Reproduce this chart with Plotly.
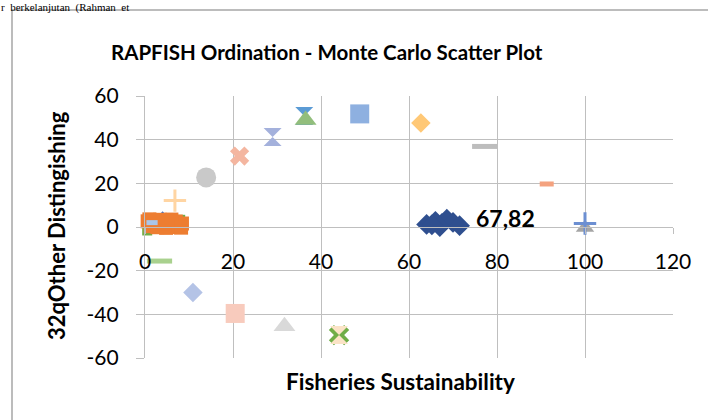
import plotly.graph_objects as go

# ---------------- data ----------------
x_ticks = [0, 20, 40, 60, 80, 100, 120]
x_tick_labels = ["0", "20", "40", "60", "80", "100", "120"]
y_ticks = [-60, -40, -20, 0, 20, 40, 60]
y_tick_labels = ["-60", "-40", "-20", "0", "20", "40", "60"]

# Monte Carlo cloud (dark blue diamonds)
mc_x = [64.0, 66.0, 67.5, 68.6, 70.0, 71.5, 67.0, 65.2]
mc_y = [1.2, 2.6, 1.6, 3.6, 2.1, 0.6, 0.2, 1.0]
mc_label = "67,82"
mc_label_x = 71.5
mc_label_y = 4.0

# points hidden under the orange cluster
hid_blue_x = [4.0]
hid_blue_y = [3.9]
hid_green_x = [8.0, 0.5]
hid_green_y = [3.3, -1.6]

# orange cluster at origin
org_x = [-0.6, 0.6, 1.3, 2.2, 3.4, 4.0, 4.9, 5.8, 6.4, 7.0, 8.4, 1.0, 2.8, 4.8, 7.6, -0.2, 1.8, 4.3, 6.0, 8.2]
org_y = [1.0, 2.6, 0.4, 1.9, 3.3, 0.9, 3.0, 1.3, 0.0, 2.5, 1.6, 3.5, -0.1, -0.4, 0.4, -0.2, 3.1, 1.8, 3.4, -0.3]

# reference / anchor points, one list pair per series
s_blue_hg_x, s_blue_hg_y = [36.2], [50.8]
s_green_tri_x, s_green_tri_y = [36.5], [49.0]
s_ltblue_sq_x, s_ltblue_sq_y = [48.8], [51.8]
s_lav_hg_x, s_lav_hg_y = [29.0], [41.2]
s_salmon_x_x, s_salmon_x_y = [21.5], [32.5]
s_gray_circ_x, s_gray_circ_y = [13.9], [22.7]
s_ltorange_plus_x, s_ltorange_plus_y = [6.8], [12.1]
s_yellow_hg_x, s_yellow_hg_y = [-0.2], [2.3]
s_ltblue_dash_x, s_ltblue_dash_y = [1.6], [2.0]
s_green_dash_x, s_green_dash_y = [3.3], [-15.6]
s_lav_dia_x, s_lav_dia_y = [10.9], [-30.0]
s_pink_sq_x, s_pink_sq_y = [20.5], [-39.6]
s_ltgray_tri_x, s_ltgray_tri_y = [31.7], [-45.5]
s_green_x_x, s_green_x_y = [44.1], [-49.5]
s_cream_hg_x, s_cream_hg_y = [44.1], [-49.5]
s_orange_dia_x, s_orange_dia_y = [62.7], [47.6]
s_gray_dash_x, s_gray_dash_y = [77.2], [36.9]
s_salmon_dash_x, s_salmon_dash_y = [91.3], [19.7]
s_gray_tri_x, s_gray_tri_y = [100.0], [-0.3]
s_blue_plus_x, s_blue_plus_y = [100.0], [1.6]

title_text = "RAPFISH Ordination - Monte Carlo Scatter Plot"
x_title = "Fisheries Sustainability"
y_title = "32qOther Distingishing"
doc_text = "r  berkelanjutan  (Rahman  et"

# ---------------- figure ----------------
W, H = 708, 420
fig = go.Figure()

def add(xs, ys, symbol, color, size, line_w=0, line_color=None):
    marker = dict(symbol=symbol, color=color, size=size,
                  line=dict(width=line_w, color=line_color or color))
    fig.add_trace(go.Scatter(x=xs, y=ys, mode="markers", marker=marker,
                             hoverinfo="skip", showlegend=False, cliponaxis=False))

add(s_blue_hg_x, s_blue_hg_y, "hourglass", "#5B9BD5", 18)
add(s_green_tri_x, s_green_tri_y, "triangle-up", "#92BE7C", 19)
add(s_ltblue_sq_x, s_ltblue_sq_y, "square", "#8EB0E0", 19)
add(s_lav_hg_x, s_lav_hg_y, "hourglass", "#A4B1DC", 18)
add(s_salmon_x_x, s_salmon_x_y, "x", "#F4B6A0", 17)
add(s_gray_circ_x, s_gray_circ_y, "circle", "#C9C9C9", 20)
add(s_ltorange_plus_x, s_ltorange_plus_y, "cross-thin", "#FFD5A3", 16, 3)
add(hid_blue_x, hid_blue_y, "diamond", "#4472C4", 11)
add(hid_green_x, hid_green_y, "square", "#70AD47", 10)
add(org_x, org_y, "square", "#ED7D31", 14)
add(s_yellow_hg_x, s_yellow_hg_y, "hourglass", "#FFC000", 14)
add(s_ltblue_dash_x, s_ltblue_dash_y, "line-ew", "#A9C6EA", 8, 5)
add(s_green_dash_x, s_green_dash_y, "line-ew", "#A9D18E", 18, 5)
add(s_lav_dia_x, s_lav_dia_y, "diamond", "#B4C3E6", 15)
add(s_pink_sq_x, s_pink_sq_y, "square", "#F8CBBD", 19)
add(s_ltgray_tri_x, s_ltgray_tri_y, "triangle-up", "#D9D9D9", 19)
add(s_green_x_x, s_green_x_y, "x", "#70AD47", 18)
add(s_cream_hg_x, s_cream_hg_y, "hourglass", "#FBE3C6", 18)
add(s_orange_dia_x, s_orange_dia_y, "diamond", "#FFC876", 15)
add(s_gray_dash_x, s_gray_dash_y, "line-ew", "#BDBDBD", 18, 5)
add(s_salmon_dash_x, s_salmon_dash_y, "line-ew", "#F4A27F", 10, 5)
add(s_gray_tri_x, s_gray_tri_y, "triangle-up", "#A5A5A5", 16)
add(s_blue_plus_x, s_blue_plus_y, "cross-thin", "#6C8FD2", 16, 3)
add(mc_x, mc_y, "diamond", "#2F4F8F", 16)

# plot area in pixels
px_l, px_r, px_t, px_b = 145, 673, 96, 358
xd = [px_l / W, px_r / W]
yd = [1 - px_b / H, 1 - px_t / H]
zero_frac = yd[0] + (yd[1] - yd[0]) * 0.5

GRID = "#BFBFBF"
FONT = "Lato"

fig.update_layout(
    width=W, height=H,
    margin=dict(l=0, r=0, t=0, b=0, autoexpand=False),
    paper_bgcolor="white", plot_bgcolor="white",
    font=dict(family=FONT, color="#000000"),
    xaxis=dict(domain=xd, range=[0, 120], tickvals=x_ticks, ticktext=x_tick_labels,
               anchor="free", position=zero_frac, automargin=False,
               showgrid=True, gridcolor=GRID, gridwidth=1.3,
               showline=True, linecolor=GRID, linewidth=1.3,
               ticks="outside", ticklen=6, tickcolor=GRID, tickwidth=1.3,
               zeroline=False, tickfont=dict(size=21, family=FONT, color="#000"),
               ticklabelstandoff=10),
    yaxis=dict(domain=yd, range=[-60, 60], tickvals=y_ticks, ticktext=y_tick_labels,
               automargin=False,
               showgrid=True, gridcolor=GRID, gridwidth=1.3,
               showline=True, linecolor=GRID, linewidth=1.3,
               ticks="outside", ticklen=8, tickcolor=GRID, tickwidth=1.3,
               zeroline=False, tickfont=dict(size=21, family=FONT, color="#000"),
               ticklabelstandoff=13),
)

fig.add_annotation(x=mc_label_x, y=mc_label_y, xref="x", yref="y", text=mc_label,
                   showarrow=False, xanchor="left", yanchor="middle", xshift=14,
                   font=dict(size=23, family=FONT, color="#000", weight="bold"))

fig.add_annotation(x=327 / W, y=1 - 52 / H, xref="paper", yref="paper", text=title_text,
                   showarrow=False, xanchor="center", yanchor="middle",
                   font=dict(size=20.5, family=FONT, color="#000", weight="bold"))
fig.add_annotation(x=400 / W, y=1 - 381 / H, xref="paper", yref="paper", text=x_title,
                   showarrow=False, xanchor="center", yanchor="middle",
                   font=dict(size=22.5, family=FONT, color="#000", weight="bold"))
fig.add_annotation(x=56 / W, y=1 - 226 / H, xref="paper", yref="paper", text=y_title,
                   showarrow=False, xanchor="center", yanchor="middle", textangle=-90,
                   font=dict(size=22, family=FONT, color="#000", weight="bold"))
fig.add_annotation(x=0, y=1, xref="paper", yref="paper", text=doc_text,
                   showarrow=False, xanchor="left", yanchor="top", borderpad=0,
                   font=dict(size=11, family="Liberation Serif", color="#000"))

# chart frame
fig.add_shape(type="rect", xref="paper", yref="paper",
              x0=12 / W, x1=1.02, y0=-0.02, y1=1 - 10 / H,
              line=dict(color="#A6A6A6", width=1.5), fillcolor="rgba(0,0,0,0)", layer="above")

fig.write_html("out.html", config={"displayModeBar": False},
               post_script="document.body.style.margin='0px';document.body.style.overflow='hidden';")
